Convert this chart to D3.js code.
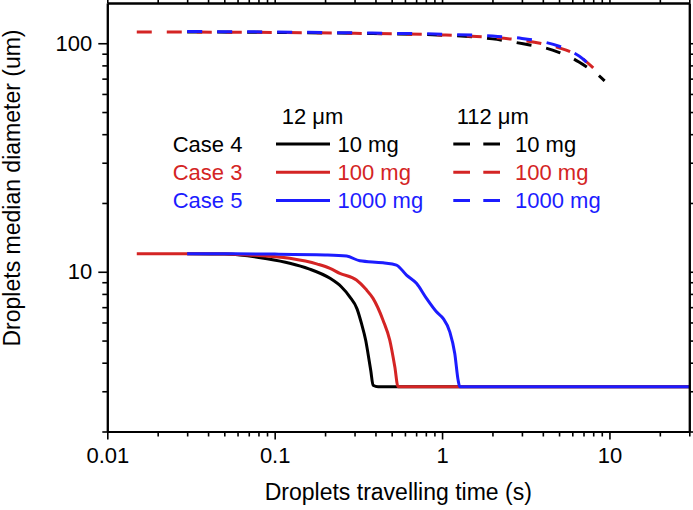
<!DOCTYPE html>
<html><head><meta charset="utf-8">
<script src="https://cdn.jsdelivr.net/npm/d3@7"></script>
<style>
body{margin:0;background:#fff}
svg{display:block}
text{font-family:"Liberation Sans",Arial,Helvetica,sans-serif}
</style>
</head><body>
<svg id="chart" width="693" height="510"></svg>
<script>
// ---------- data ----------
// 12 um droplets (solid lines)
const case4_12_time = [0.03, 0.05, 0.062, 0.09, 0.123, 0.16, 0.214, 0.25, 0.281, 0.31, 0.33, 0.35, 0.361, 0.375, 0.387, 0.415, 30];
const case4_12_diam = [12, 11.95, 11.83, 11.4, 10.9, 10.3, 9.36, 8.6, 7.77, 6.9, 5.94, 5.0, 4.39, 3.7, 3.19, 3.14, 3.14];
const case3_12_time = [0.015, 0.04, 0.07, 0.123, 0.18, 0.214, 0.245, 0.308, 0.35, 0.387, 0.444, 0.487, 0.522, 0.546, 30];
const case3_12_diam = [12, 12, 11.85, 11.45, 10.8, 10.35, 9.84, 9.2, 8.4, 7.65, 6.14, 5.02, 3.84, 3.14, 3.14];
const case5_12_time = [0.03, 0.1, 0.2, 0.269, 0.3225, 0.444, 0.534, 0.613, 0.703, 0.807, 0.926, 1.014, 1.112, 1.191, 1.247, 1.275, 30];
const case5_12_diam = [12, 11.95, 11.85, 11.71, 11.17, 10.95, 10.7, 9.67, 8.9, 7.65, 6.68, 6.25, 5.46, 4.39, 3.36, 3.14, 3.14];
// 112 um droplets (dashed lines)
const case4_112_time = [0.03, 0.1, 0.3, 1, 2, 3.34, 4, 5.03, 6, 7.28, 8.3, 9.36];
const case4_112_diam = [112, 111.5, 110.5, 108.5, 104.5, 98.3, 96, 91, 86, 79, 74, 68.4];
const case3_112_time = [0.015, 0.1, 0.3, 1, 2, 3, 4, 5, 6, 7, 8];
const case3_112_diam = [112, 111.5, 110.5, 108.7, 106, 103, 99.5, 95.5, 91, 85, 78];
const case5_112_time = [0.03, 0.1, 0.3, 1, 2, 3, 4, 5, 6, 7, 7.6];
const case5_112_diam = [112.5, 112, 111, 109.5, 107.5, 105, 101.5, 97, 91.5, 85, 80];

// axis ticks and labels
const xMajorTicks = [0.01, 0.1, 1, 10];
const xTickLabels = ["0.01", "0.1", "1", "10"];
const yMajorTicks = [10, 100];
const yTickLabels = ["10", "100"];
const xTitle = "Droplets travelling time (s)";
const yTitle = "Droplets median diameter (um)";

// legend text
const caseLabels = ["Case 4", "Case 3", "Case 5"];
const massLabels = ["10 mg", "100 mg", "1000 mg"];
const sizeLabels = ["12 \u03bcm", "112 \u03bcm"];

// ---------- layout ----------
const colors = ["#000000", "#d42424", "#1c1cff"];
const W = 693, H = 510;
const m = {left: 107.3, right: 693 - 689.3, top: 3, bottom: 510 - 431.5};
const svg = d3.select("#chart");

const x = d3.scaleLog().domain([0.01, 30]).range([m.left, W - m.right]);
const y = d3.scaleLog().domain([2, 150]).range([H - m.bottom, m.top]);

function minorTicks(lo, hi) {
  const out = [];
  for (let d = Math.floor(Math.log10(lo)); d <= Math.ceil(Math.log10(hi)); d++) {
    for (let k = 1; k <= 9; k++) {
      const v = k * Math.pow(10, d);
      if (v >= lo * 0.9999 && v <= hi * 1.0001) out.push(v);
    }
  }
  return out;
}
const xMinor = minorTicks(0.01, 30).filter(v => !xMajorTicks.some(t => Math.abs(t - v) / v < 1e-6));
const yMinor = minorTicks(2, 150).filter(v => !yMajorTicks.some(t => Math.abs(t - v) / v < 1e-6));

// ---------- curves ----------
const line = d3.line().x(d => x(d[0])).y(d => y(d[1])).curve(d3.curveMonotoneX);
const zip = (a, b) => a.map((v, i) => [v, b[i]]);

const dashed = [
  zip(case4_112_time, case4_112_diam),
  zip(case3_112_time, case3_112_diam),
  zip(case5_112_time, case5_112_diam)
];
const solid = [
  zip(case4_12_time, case4_12_diam),
  zip(case3_12_time, case3_12_diam),
  zip(case5_12_time, case5_12_diam)
];

const plot = svg.append("g");
solid.forEach((d, i) => {
  plot.append("path").attr("d", line(d)).attr("fill", "none")
    .attr("stroke", colors[i]).attr("stroke-width", 3).attr("stroke-linejoin", "round");
});
dashed.forEach((d, i) => {
  plot.append("path").attr("d", line(d)).attr("fill", "none")
    .attr("stroke", colors[i]).attr("stroke-width", 3)
    .attr("stroke-dasharray", "15,15");
});

// ---------- axes ----------
const axisColor = "#000";
const fontTick = 22;

function styleAxis(g) {
  g.select(".domain").attr("stroke", axisColor).attr("stroke-width", 2);
  g.selectAll(".tick line").attr("stroke", axisColor).attr("stroke-width", 1.6);
  g.selectAll("text").attr("font-size", fontTick).attr("fill", "#000")
    .attr("font-family", '"Liberation Sans", Arial, sans-serif');
}

// bottom major
const xb = svg.append("g").attr("transform", `translate(0,${H - m.bottom})`)
  .call(d3.axisBottom(x).tickValues(xMajorTicks).tickFormat((d, i) => xTickLabels[i]).tickSize(8).tickPadding(8).tickSizeOuter(0));
styleAxis(xb);
// bottom minor
const xbm = svg.append("g").attr("transform", `translate(0,${H - m.bottom})`)
  .call(d3.axisBottom(x).tickValues(xMinor).tickFormat("").tickSize(5).tickSizeOuter(0));
styleAxis(xbm);
// top
const xt = svg.append("g").attr("transform", `translate(0,${m.top})`)
  .call(d3.axisTop(x).tickValues(xMajorTicks).tickFormat("").tickSize(8).tickSizeOuter(0));
styleAxis(xt);
const xtm = svg.append("g").attr("transform", `translate(0,${m.top})`)
  .call(d3.axisTop(x).tickValues(xMinor).tickFormat("").tickSize(5).tickSizeOuter(0));
styleAxis(xtm);

// left
const yl = svg.append("g").attr("transform", `translate(${m.left},0)`)
  .call(d3.axisLeft(y).tickValues(yMajorTicks).tickFormat((d, i) => yTickLabels[i]).tickSize(9).tickPadding(6).tickSizeOuter(0));
styleAxis(yl);
const ylm = svg.append("g").attr("transform", `translate(${m.left},0)`)
  .call(d3.axisLeft(y).tickValues(yMinor).tickFormat("").tickSize(5).tickSizeOuter(0));
styleAxis(ylm);
// right
const yr = svg.append("g").attr("transform", `translate(${W - m.right},0)`)
  .call(d3.axisRight(y).tickValues(yMajorTicks).tickFormat("").tickSize(9).tickSizeOuter(0));
styleAxis(yr);
const yrm = svg.append("g").attr("transform", `translate(${W - m.right},0)`)
  .call(d3.axisRight(y).tickValues(yMinor).tickFormat("").tickSize(5).tickSizeOuter(0));
styleAxis(yrm);

// titles
svg.append("text").attr("x", (m.left + W - m.right) / 2).attr("y", 500)
  .attr("text-anchor", "middle").attr("font-size", 23).text(xTitle);
svg.append("text").attr("transform", `translate(20,${188}) rotate(-90)`)
  .attr("text-anchor", "middle").attr("font-size", 23).text(yTitle);

// ---------- legend ----------
const lg = svg.append("g");
const rowY = [151.7, 180, 208.3];
lg.selectAll("text.hdr").data(sizeLabels).enter().append("text")
  .attr("class", "hdr")
  .attr("x", (d, i) => i === 0 ? 281.7 : 456.7).attr("y", 124)
  .attr("font-size", 22).attr("fill", "#000").text(d => d);

caseLabels.forEach((c, i) => {
  const yy = rowY[i];
  lg.append("text").attr("x", 172.7).attr("y", yy).attr("font-size", 22)
    .attr("fill", colors[i]).text(c);
  lg.append("line").attr("x1", 276).attr("x2", 330).attr("y1", yy - 7.7).attr("y2", yy - 7.7)
    .attr("stroke", colors[i]).attr("stroke-width", 3);
  lg.append("text").attr("x", 337.5).attr("y", yy).attr("font-size", 22)
    .attr("fill", colors[i]).text(massLabels[i]);
  lg.append("line").attr("x1", 453.3).attr("x2", 500).attr("y1", yy - 7.7).attr("y2", yy - 7.7)
    .attr("stroke", colors[i]).attr("stroke-width", 3).attr("stroke-dasharray", "16.7,13.3");
  lg.append("text").attr("x", 515).attr("y", yy).attr("font-size", 22)
    .attr("fill", colors[i]).text(massLabels[i]);
});
</script>
</body></html>
